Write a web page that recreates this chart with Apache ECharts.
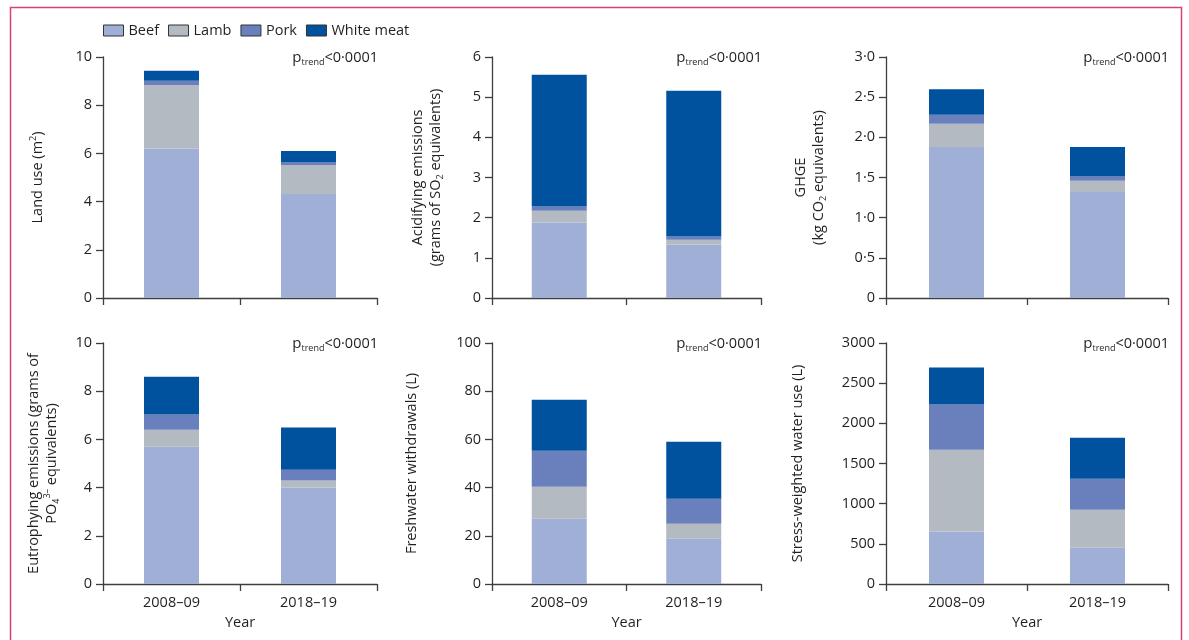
<!DOCTYPE html>
<html>
<head>
<meta charset="utf-8">
<script src="https://cdn.jsdelivr.net/npm/echarts@6/dist/echarts.min.js"></script>
<style>
  html, body { margin: 0; padding: 0; background: #fff; }
  #chart { width: 1189px; height: 640px; }
</style>
</head>
<body>
<div id="chart"></div>
<script>
// ---- Data ----
const categories = ['2008–09', '2018–19'];
const meats = ['Beef', 'Lamb', 'Pork', 'White meat'];

// Land use (m2)
const landBeef = [6.2, 4.32];
const landLamb = [2.64, 1.2];
const landPork = [0.17, 0.12];
const landWhite = [0.42, 0.46];

// Acidifying emissions (g SO2 eq)
const acidBeef = [1.88, 1.33];
const acidLamb = [0.29, 0.12];
const acidPork = [0.11, 0.08];
const acidWhite = [3.28, 3.63];

// GHGE (kg CO2 eq)
const ghgeBeef = [1.88, 1.32];
const ghgeLamb = [0.29, 0.14];
const ghgePork = [0.11, 0.06];
const ghgeWhite = [0.32, 0.36];

// Eutrophying emissions (g PO4 eq)
const eutroBeef = [5.70, 4.0];
const eutroLamb = [0.70, 0.29];
const eutroPork = [0.63, 0.45];
const eutroWhite = [1.57, 1.75];

// Freshwater withdrawals (L)
const freshBeef = [27.1, 18.8];
const freshLamb = [13.3, 6.2];
const freshPork = [14.9, 10.4];
const freshWhite = [21.2, 23.6];

// Stress-weighted water use (L)
const stressBeef = [655, 452];
const stressLamb = [1017, 473];
const stressPork = [561, 386];
const stressWhite = [461, 511];

// Axis scales
const yMax = [10, 6, 3, 10, 100, 3000];
const yInterval = [2, 1, 0.5, 2, 20, 500];

// ---- Styles ----
const FONT = 'Open Sans';
const FS = 14.5;
const TXT = '#231f20';
const AX = '#3f3f3f';
const colors = ['#a0afd6', '#b3bac1', '#6a80bd', '#00519e'];

const panels = [
  [landBeef, landLamb, landPork, landWhite],
  [acidBeef, acidLamb, acidPork, acidWhite],
  [ghgeBeef, ghgeLamb, ghgePork, ghgeWhite],
  [eutroBeef, eutroLamb, eutroPork, eutroWhite],
  [freshBeef, freshLamb, freshPork, freshWhite],
  [stressBeef, stressLamb, stressPork, stressWhite]
];

const yNames = [
  'Land use (m{sup|2})',
  'Acidifying emissions\n(grams of SO{sub|2} equivalents)',
  'GHGE\n(kg CO{sub|2} equivalents)',
  'Eutrophying emissions (grams of\nPO{sub|4}{sup|3–} equivalents)',
  'Freshwater withdrawals (L)',
  'Stress-weighted water use (L)'
];
const nameGaps = [56, 47, 58, 42, 71, 79];

const lefts = [103, 492, 886];
const widths = [274, 269, 282];
const tops = [57, 343];
const H = 241;

const richName = {
  sup: { fontSize: 9, verticalAlign: 'top', fontFamily: FONT, color: TXT, lineHeight: 18 },
  sub: { fontSize: 9, verticalAlign: 'bottom', fontFamily: FONT, color: TXT, lineHeight: 18 }
};

const grids = [], xAxes = [], yAxes = [], series = [], titles = [];
for (let i = 0; i < 6; i++) {
  const row = Math.floor(i / 3), col = i % 3;
  grids.push({ left: lefts[col], top: tops[row], width: widths[col], height: H });
  xAxes.push({
    type: 'category', gridIndex: i, data: categories,
    axisLine: { lineStyle: { color: AX, width: 1.3 } },
    axisTick: { show: true, length: 7, lineStyle: { color: AX, width: 1.3 } },
    axisLabel: { show: row === 1, color: TXT, fontSize: FS, fontFamily: FONT, margin: 11 },
    name: row === 1 ? 'Year' : '',
    nameLocation: 'middle', nameGap: 31,
    nameTextStyle: { color: TXT, fontSize: FS, fontFamily: FONT }
  });
  const dec = i === 2;
  yAxes.push({
    type: 'value', gridIndex: i, min: 0, max: yMax[i], interval: yInterval[i],
    axisLine: { show: true, lineStyle: { color: AX, width: 1.3 } },
    axisTick: { show: true, length: 7, lineStyle: { color: AX, width: 1.3 } },
    splitLine: { show: false },
    axisLabel: {
      color: TXT, fontSize: FS, fontFamily: FONT, margin: 11,
      formatter: dec ? (v => v === 0 ? '0' : v.toFixed(1).replace('.', '·')) : (v => String(v))
    },
    name: yNames[i], nameLocation: 'middle', nameGap: nameGaps[i],
    nameTextStyle: { color: TXT, fontSize: FS, fontFamily: FONT, lineHeight: 18, rich: richName }
  });
  panels[i].forEach((vals, k) => {
    series.push({
      type: 'bar', name: meats[k], xAxisIndex: i, yAxisIndex: i,
      stack: 'p' + i, data: vals, barWidth: 55,
      itemStyle: { color: colors[k] }, emphasis: { disabled: true }
    });
  });
  const rightEdge = 1189 - (lefts[col] + widths[col]) - 1;
  titles.push({
    text: '{p|p}{s|trend}{t|<0·0001}',
    right: rightEdge, top: tops[row] - 8, padding: 0,
    textStyle: {
      fontWeight: 'normal',
      rich: {
        p: { fontSize: 15, fontFamily: FONT, color: TXT, fontWeight: 'normal', lineHeight: 18 },
        s: { fontSize: 9, fontFamily: FONT, color: TXT, fontWeight: 'normal', verticalAlign: 'bottom', lineHeight: 18 },
        t: { fontSize: FS, fontFamily: FONT, color: TXT, fontWeight: 'normal', lineHeight: 18 }
      }
    }
  });
}

const chart = echarts.init(document.getElementById('chart'), null, { renderer: 'canvas' });
chart.setOption({
  animation: false,
  backgroundColor: '#ffffff',
  title: titles,
  legend: {
    data: meats, left: 103, top: 23, padding: 0, icon: 'rect', itemWidth: 20, itemHeight: 11, itemGap: 9,
    textStyle: { color: TXT, fontSize: FS, fontFamily: FONT },
    itemStyle: { borderColor: '#333', borderWidth: 1 }
  },
  grid: grids, xAxis: xAxes, yAxis: yAxes, series: series,
  graphic: [{
    type: 'rect', shape: { x: 10.5, y: 7.5, width: 1171, height: 640 },
    style: { fill: 'none', stroke: '#d9426f', lineWidth: 1.5 }, silent: true
  }]
});
</script>
</body>
</html>
